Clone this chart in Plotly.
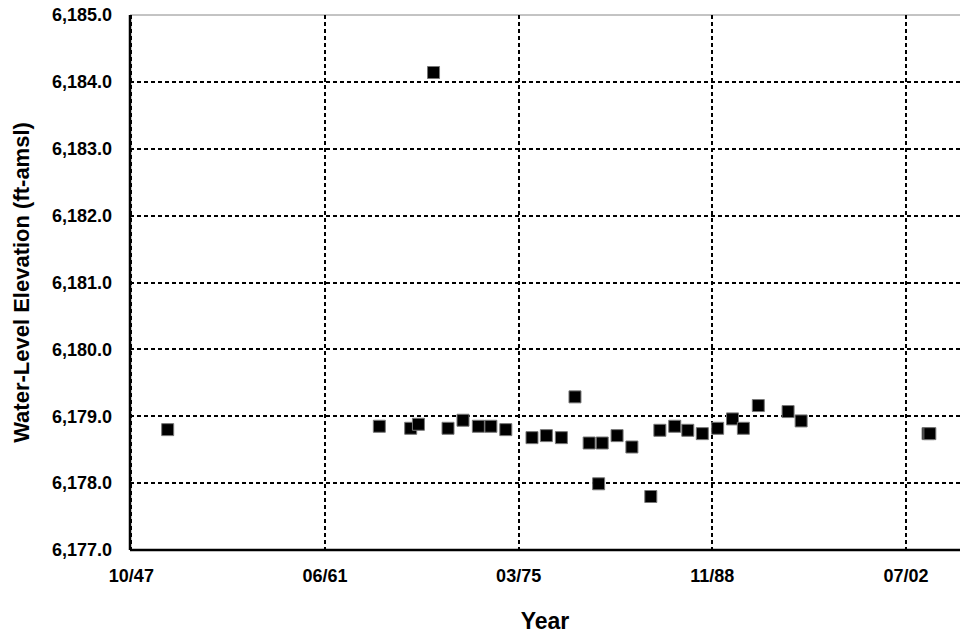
import plotly.graph_objects as go

# Sampling dates and measured water-level elevations (ft above mean sea level)
sample_dates = [
    "1950-05-15", "1965-05-01", "1967-07-20", "1968-02-05", "1969-03-01",
    "1970-03-10", "1971-04-01", "1972-05-01", "1973-03-20", "1974-04-10",
    "1976-02-15", "1977-02-20", "1978-03-15", "1979-03-01", "1980-03-01",
    "1980-11-01", "1981-02-01", "1982-02-20", "1983-03-10", "1984-07-10",
    "1985-03-01", "1986-03-20", "1987-02-20", "1988-03-01", "1989-04-01",
    "1990-04-20", "1991-01-25", "1992-02-15", "1994-03-25", "1995-02-25",
    "2004-02-15", "2004-04-01",
]
water_level = [
    6178.80, 6178.85, 6178.82, 6178.88, 6184.14,
    6178.82, 6178.94, 6178.85, 6178.85, 6178.80,
    6178.68, 6178.71, 6178.68, 6179.29, 6178.60,
    6177.99, 6178.60, 6178.71, 6178.54, 6177.80,
    6178.79, 6178.85, 6178.79, 6178.74, 6178.82,
    6178.96, 6178.82, 6179.16, 6179.07, 6178.93,
    6178.74, 6178.74,
]

# Date ticks every 5000 days, labelled mm/yy
tick_dates = ["1947-10-20", "1961-06-28", "1975-03-07", "1988-11-14", "2002-07-23"]
tick_labels = ["10/47", "06/61", "03/75", "11/88", "07/02"]

FONT = "Liberation Sans, Arial, sans-serif"

fig = go.Figure(
    go.Scatter(
        x=sample_dates,
        y=water_level,
        mode="markers",
        marker=dict(symbol="square", size=12, color="black",
                    line=dict(color="#777777", width=1)),
        showlegend=False,
    )
)

fig.update_layout(
    width=960,
    height=634,
    margin=dict(l=130, r=0, t=15, b=84),
    paper_bgcolor="white",
    plot_bgcolor="white",
    font=dict(family=FONT, color="black"),
)

grid_style = dict(showgrid=True, gridcolor="black", gridwidth=1.6, griddash="4px,3px")

fig.update_xaxes(
    type="date",
    range=["1947-09-15", "2006-05-20"],
    tickvals=tick_dates,
    ticktext=tick_labels,
    tickfont=dict(family=FONT, size=18, weight="bold"),
    ticks="",
    ticklabelstandoff=13,
    showline=False,
    zeroline=False,
    title=dict(text="Year", font=dict(family=FONT, size=23, weight="bold"), standoff=27),
    **grid_style,
)

fig.update_yaxes(
    range=[6177, 6185],
    dtick=1,
    tick0=6177,
    tickformat=",.1f",
    tickfont=dict(family=FONT, size=18, weight="bold"),
    ticks="",
    ticklabelstandoff=17,
    showline=False,
    zeroline=False,
    title=dict(text="Water-Level Elevation (ft-amsl)",
               font=dict(family=FONT, size=22, weight="bold"), standoff=16),
    **grid_style,
)

# Plot frame: thin grey top edge, solid black left and bottom axis lines
fig.add_shape(type="line", xref="paper", yref="paper", x0=0, x1=1, y0=1, y1=1,
              line=dict(color="#888888", width=1), layer="below")
fig.add_shape(type="line", xref="paper", yref="paper", x0=0, x1=0, y0=0, y1=1,
              line=dict(color="black", width=2.5), layer="above")
fig.add_shape(type="line", xref="paper", yref="paper", x0=0, x1=1, y0=0, y1=0,
              line=dict(color="black", width=2.5), layer="above")

fig.write_html("out.html")
